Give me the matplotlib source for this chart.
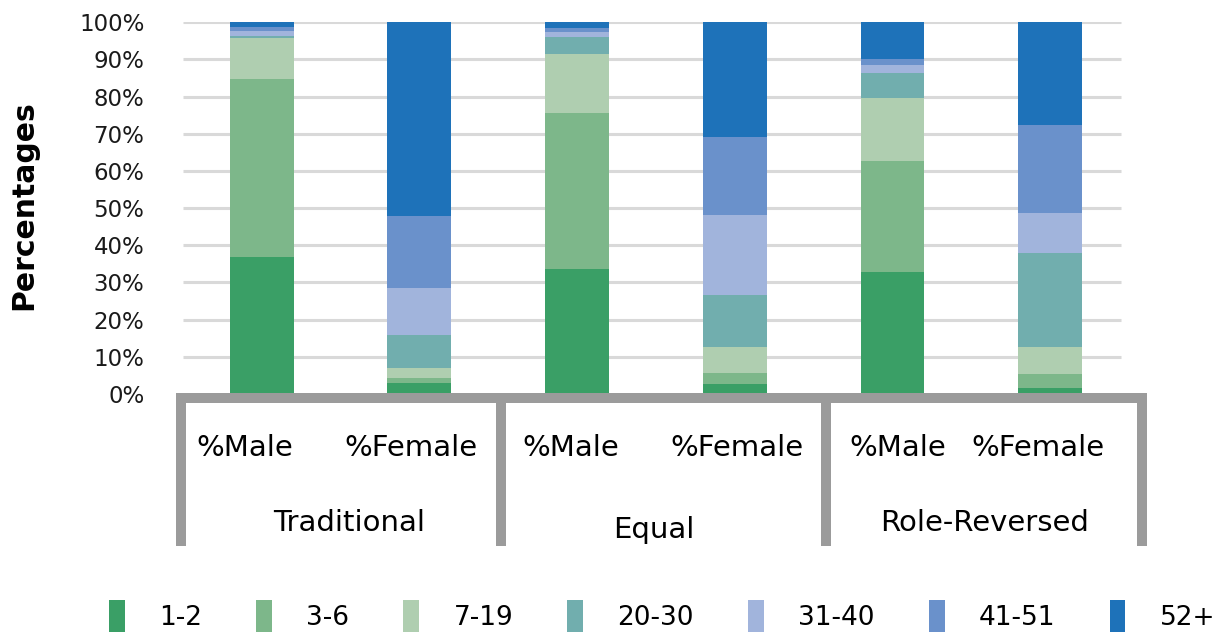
import numpy as np
import matplotlib
matplotlib.use("Agg")
import matplotlib.pyplot as plt
from matplotlib.patches import Patch

# bars, left to right
bar_labels = ["%Male", "%Female", "%Male", "%Female", "%Male", "%Female"]
groups = ["Traditional", "Equal", "Role-Reversed"]
age_bins = ["1-2", "3-6", "7-19", "20-30", "31-40", "41-51", "52+"]

# percentages per age bin, one value per bar
v_1_2 = [36.9, 3.0, 33.6, 2.7, 32.8, 1.6]
v_3_6 = [47.8, 1.3, 42.0, 2.9, 29.9, 3.8]
v_7_19 = [11.1, 2.7, 15.9, 7.0, 16.9, 7.2]
v_20_30 = [0.6, 8.9, 4.5, 14.0, 6.8, 25.3]
v_31_40 = [1.3, 12.6, 1.4, 21.6, 2.1, 10.8]
v_41_51 = [1.0, 19.4, 1.1, 20.9, 1.6, 23.7]
v_52p = [1.3, 52.1, 1.5, 30.9, 9.9, 27.6]

colors = ["#3A9F66", "#7DB78A", "#AFCEB0", "#71AEAE", "#A1B4DC", "#6A91CB", "#1E72B9"]

series = [v_1_2, v_3_6, v_7_19, v_20_30, v_31_40, v_41_51, v_52p]

W, H, DPI = 1221, 633, 100
fig = plt.figure(figsize=(W / DPI, H / DPI), dpi=DPI)

x0, x1 = -0.55, 5.65
ax = fig.add_axes([175 / W, (H - 394) / H, (1152.6 - 175) / W, (394 - 22.3) / H])

x = np.arange(len(bar_labels))
bottom = np.zeros(len(x))
for vals, c in zip(series, colors):
    vals = np.array(vals)
    ax.bar(x, vals / 100, 0.405, bottom=bottom / 100, color=c, zorder=3)
    bottom += vals

# gridlines
for t in np.arange(0.1, 1.01, 0.1):
    ax.hlines(t, -0.5, 5.45, color="#D9D9D9", lw=2.2, zorder=1)

ax.set_xlim(x0, x1)
ax.set_ylim(0, 1)
ax.set_yticks(np.arange(0, 1.01, 0.1))
ax.set_yticklabels([f"{int(round(t * 100))}%" for t in np.arange(0, 1.01, 0.1)],
                   fontsize=16.5, color="#1a1a1a")
ax.tick_params(axis="y", length=0, pad=22)
ax.set_xticks([])
for s in ax.spines.values():
    s.set_visible(False)

# multi-level category axis
tr = ax.get_xaxis_transform()
gray = "#9B9B9B"
ax.plot([-0.545, 5.615], [-0.0108, -0.0108], color=gray, lw=7.2,
        transform=tr, clip_on=False, solid_capstyle="butt", zorder=4)
for xd in [-0.511, 1.518, 3.576, 5.583]:
    ax.plot([xd, xd], [0, -0.410], color=gray, lw=7.2, transform=tr,
            clip_on=False, solid_capstyle="butt", zorder=4)

sub_x = [-0.105, 0.947, 1.962, 3.014, 4.035, 4.923]
for xs, lab in zip(sub_x, bar_labels):
    ax.text(xs, -0.145, lab, transform=tr, ha="center", va="center", fontsize=21)

grp_x = [0.555, 2.489, 4.587]
grp_y = [-0.347, -0.366, -0.347]
for xg, yg, lab in zip(grp_x, grp_y, groups):
    ax.text(xg, yg, lab, transform=tr, ha="center", va="center", fontsize=21)

fig.text(24 / W, 1 - 205 / H, "Percentages", rotation=90, ha="center", va="center",
         fontsize=21.5, fontweight="bold")

handles = [Patch(facecolor=c, edgecolor="none") for c in colors]
fig.legend(handles, age_bins, loc="center left", bbox_to_anchor=(109 / W, 1 - 616 / H),
           ncol=7, frameon=False, fontsize=19, handlelength=0.6, handleheight=1.45,
           handletextpad=1.3, columnspacing=2.05, borderaxespad=0, borderpad=0)

fig.savefig("out.png", dpi=DPI)
